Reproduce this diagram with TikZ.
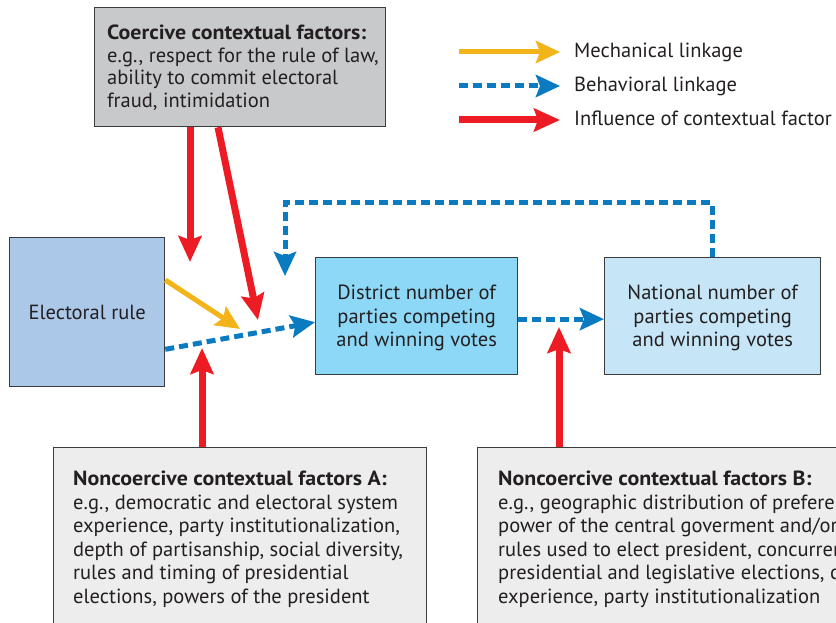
\documentclass[tikz,border=0pt]{standalone}
\usepackage{fontspec}
\setmainfont{PT Sans}[BoldFeatures={FakeStretch=1.07}]
\usetikzlibrary{arrows.meta}
\definecolor{txt}{HTML}{231F20}
\definecolor{bordergray}{HTML}{3C3C3C}
\definecolor{coerfill}{HTML}{C8C9CB}
\definecolor{elecfill}{HTML}{ABC8E9}
\definecolor{distfill}{HTML}{8DD8F6}
\definecolor{natfill}{HTML}{C6E5F6}
\definecolor{noncofill}{HTML}{EDEDEE}
\definecolor{redc}{HTML}{ED1C24}
\definecolor{yelc}{HTML}{F3B419}
\definecolor{bluec}{HTML}{0B7BC1}
\tikzset{
  box/.style={draw=bordergray, line width=1.3pt, anchor=north west, text=txt},
  boxtext/.style={anchor=north west, inner sep=0pt, align=left, text=txt},
  redarr/.style={draw=redc, line width=7pt, -{Stealth[length=26pt,width=23pt,inset=4pt]}},
  yelarr/.style={draw=yelc, line width=5pt, -{Stealth[length=24pt,width=22pt,inset=4pt]}},
  bluearr/.style={draw=bluec, line width=5pt, dash pattern=on 9pt off 5pt, -{Stealth[length=24pt,width=22pt,inset=4pt]}},
  legtext/.style={anchor=mid west, inner sep=0pt, text=txt},
}
\begin{document}
\begin{tikzpicture}[x=1pt,y=-1pt, font=\fontsize{20.5}{23.5}\selectfont]
\useasboundingbox (0,0) rectangle (836,623);
\clip (0,0) rectangle (836,623);
% boxes
\node[box, fill=coerfill, minimum width=291pt, minimum height=119pt] (coer) at (94,7) {};
\node[boxtext, font=\fontsize{20.5}{22.4}\selectfont] (coertext) at (107,25)
  {\textbf{Coercive contextual factors:}\\e.g., respect for the rule of law,\\ability to commit electoral\\fraud, intimidation};
\node[box, fill=elecfill, minimum width=155pt, minimum height=149pt] (elec) at (9,237) {Electoral rule};
\node[box, fill=distfill, minimum width=202pt, minimum height=117pt, align=center, text depth=-2pt] (dist) at (315,257)
  {District number of\\parties competing\\and winning votes};
\node[box, fill=natfill, minimum width=216pt, minimum height=117pt, align=center, text depth=-2pt] (nat) at (604,257)
  {National number of\\parties competing\\and winning votes};
\node[box, fill=noncofill, minimum width=373pt, minimum height=181pt] (ncA) at (53,447) {};
\node[boxtext] (ncAtext) at (73,471)
  {\textbf{Noncoercive contextual factors A:}\\e.g., democratic and electoral system\\experience, party institutionalization,\\depth of partisanship, social diversity,\\rules and timing of presidential\\elections, powers of the president};
\node[box, fill=noncofill, minimum width=520pt, minimum height=181pt] (ncB) at (477,447) {};
\node[boxtext] (ncBtext) at (498,471)
  {\textbf{Noncoercive contextual factors B:}\\e.g., geographic distribution of preferences,\\power of the central goverment and/or states,\\rules used to elect president, concurrence of\\presidential and legislative elections, colonial\\experience, party institutionalization};
% free ends
\coordinate (r1t) at (190,262);
\coordinate (r2t) at (258,320);
\coordinate (yt) at (240,329);
\coordinate (rat) at (202,348);
\coordinate (rbt) at (559,327);
\coordinate (fbc) at (285,203);
\coordinate (fbt) at (285,276);
% connectors
\draw[redarr] (r1t |- coer.south) -- (r1t);
\draw[redarr] (coer.south west) ++(124,0) -- (r2t);
\draw[yelarr] (elec.north east) ++(0,43) -- (yt);
\draw[bluearr] (elec.south east) ++(0,-38) -- ([yshift=-6pt]dist.west);
\draw[redarr] (ncA.north west) ++(149,0) -- (rat);
\draw[bluearr] ([yshift=-3pt]dist.east) -- ([yshift=-3pt]nat.west);
\draw[redarr] (ncB.north west) ++(82,0) -- (rbt);
\draw[bluearr] (nat.north west) ++(108,0) |- (fbc) -- (fbt);
% legend
\coordinate (l1s) at (459,52); \coordinate (l1e) at (560,52);
\coordinate (l2s) at (459,86); \coordinate (l2e) at (560,86);
\coordinate (l3s) at (459,120); \coordinate (l3e) at (560,120);
\draw[yelarr] (l1s) -- (l1e);
\draw[bluearr] (l2s) -- (l2e);
\draw[redarr] (l3s) -- (l3e);
\node[legtext] (l1t) at (574,55) {Mechanical linkage};
\node[legtext] (l2t) at (574,89) {Behavioral linkage};
\node[legtext] (l3t) at (574,123) {Influence of contextual factor};
\end{tikzpicture}
\end{document}
